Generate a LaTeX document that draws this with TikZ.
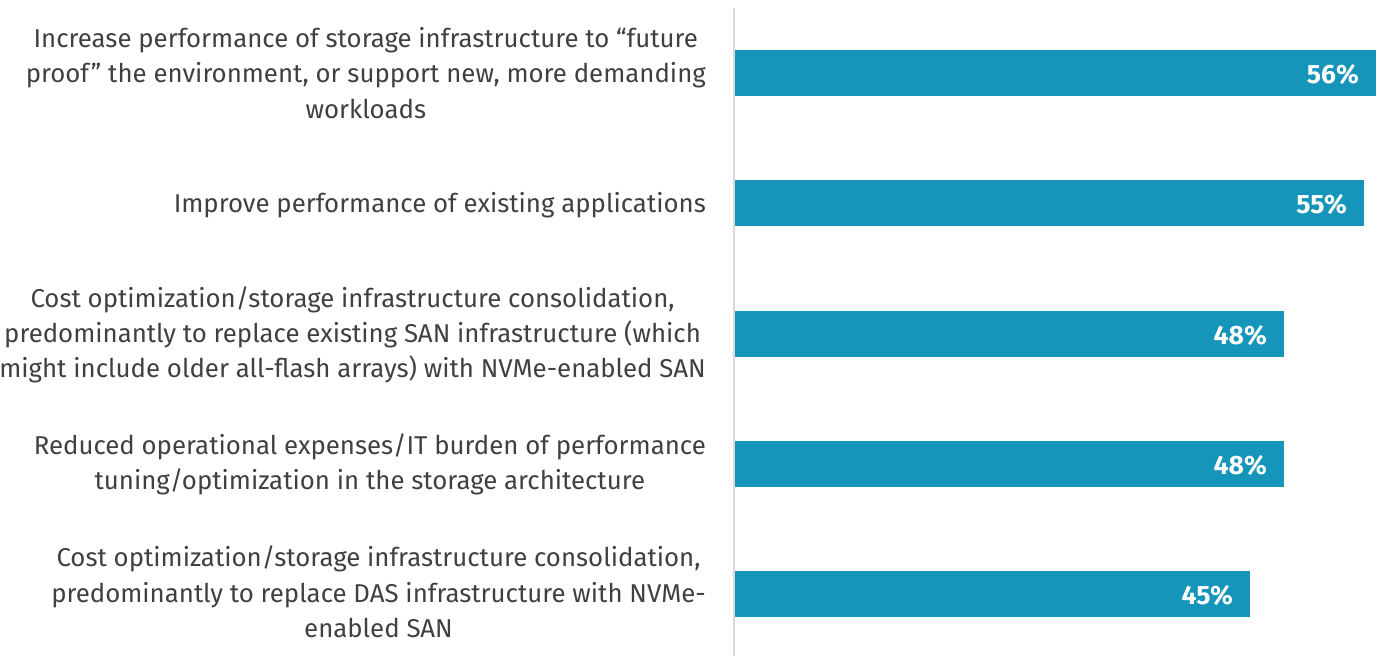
\documentclass[tikz,border=0pt]{standalone}
\usepackage{fontspec}
\setmainfont{Fira Sans}
\definecolor{barblue}{HTML}{1695BA}
\definecolor{txtgrey}{HTML}{404040}
\definecolor{axisgrey}{HTML}{D9D9D9}
\begin{document}
\begin{tikzpicture}[x=1pt,y=-1pt,
  lbl/.style={anchor=east,align=center,inner sep=0pt,text=txtgrey,
    font=\fontsize{25.8}{35.3}\selectfont},
  bar/.style={fill=barblue,draw=none},
  pct/.style={anchor=east,inner sep=0pt,text=white,
    font=\fontsize{26.5}{30}\selectfont\bfseries}]
\useasboundingbox (0,0) rectangle (1377,656);
\draw[axisgrey,line width=2pt] (734,8) coordinate (axtop) -- (734,656) coordinate (axbot);
% bars
\path[bar] (735,50) rectangle (1376,96);
\path[bar] (735,180) rectangle (1364,226);
\path[bar] (735,311) rectangle (1284,357);
\path[bar] (735,441) rectangle (1284,487);
\path[bar] (735,571) rectangle (1250,617);
% values
\node[pct] (v1) at (1359,74) {56\%};
\node[pct] (v2) at (1347,204) {55\%};
\node[pct] (v3) at (1267,335) {48\%};
\node[pct] (v4) at (1267,465) {48\%};
\node[pct] (v5) at (1233,595) {45\%};
% labels
\node[lbl] (l1) at (706,73) {Increase performance of storage infrastructure to “future\\proof” the environment, or support new, more demanding\\workloads};
\node[lbl] (l2) at (706,205) {Improve performance of existing applications};
\node[lbl] (l3) at (706,335) {Cost optimization/storage infrastructure consolidation,\\predominantly to replace existing SAN infrastructure (which\\might include older all-flash arrays) with NVMe-enabled SAN};
\node[lbl] (l4) at (706,464) {Reduced operational expenses/IT burden of performance\\tuning/optimization in the storage architecture};
\node[lbl] (l5) at (706,592) {Cost optimization/storage infrastructure consolidation,\\predominantly to replace DAS infrastructure with NVMe-\\enabled SAN};
\end{tikzpicture}
\end{document}
